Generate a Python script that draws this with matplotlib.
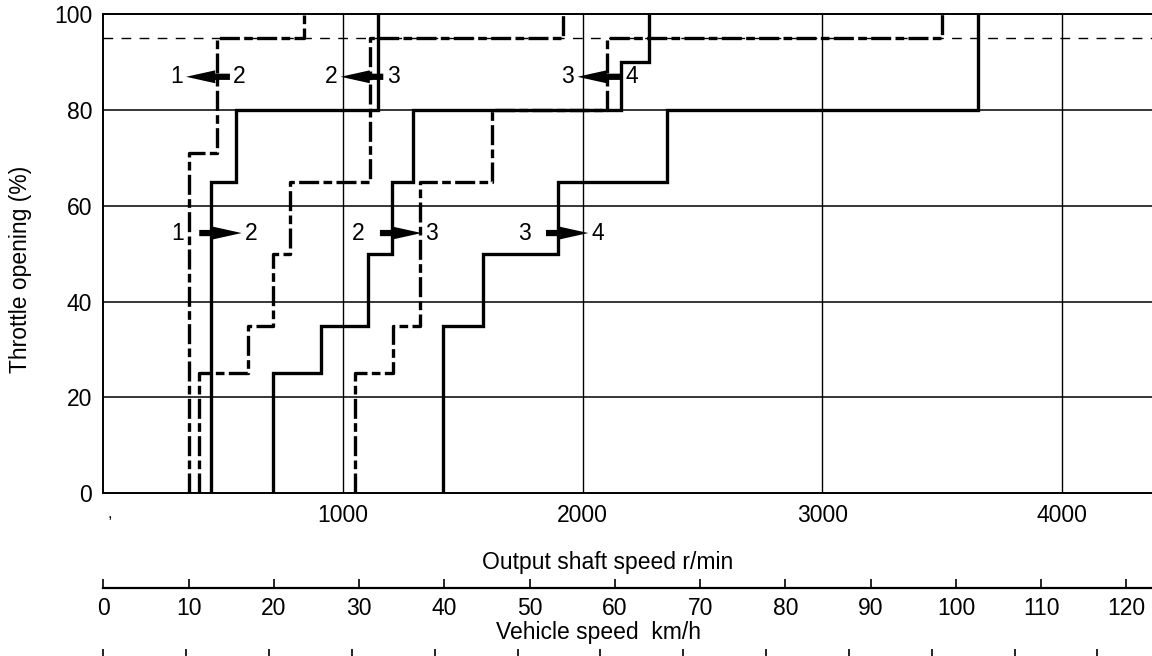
import matplotlib
matplotlib.use("Agg")
import matplotlib.pyplot as plt

plt.rcParams['font.family'] = ['Liberation Sans', 'DejaVu Sans']

# ---------------- data ----------------
# step lines: vertical at rpm[i] from thr[i-1]..thr[i], drawn with steps-pre
up12_rpm = [449, 553, 1147, 1147]
up12_thr = [0, 65, 80, 100]
down12_rpm = [358, 473, 837, 837]
down12_thr = [0, 71, 95, 100]

up23_rpm = [709, 907, 1106, 1203, 1293, 2160, 2278, 2278]
up23_thr = [0, 25, 35, 50, 65, 80, 90, 100]
down23_rpm = [400, 605, 709, 779, 1113, 1918, 1918]
down23_thr = [0, 25, 35, 50, 65, 95, 100]

up34_rpm = [1419, 1586, 1899, 2351, 3650, 3650]
up34_thr = [0, 35, 50, 65, 80, 100]
down34_rpm = [1050, 1210, 1321, 1621, 2100, 3500, 3500]
down34_thr = [0, 25, 35, 65, 80, 95, 100]

kickdown_level = 95

rpm_ticks = [1000, 2000, 3000, 4000]
throttle_ticks = [0, 20, 40, 60, 80, 100]
kmh_ticks = [0, 10, 20, 30, 40, 50, 60, 70, 80, 90, 100, 110, 120]
bottom_scale_ticks = list(range(13))

# shift arrows: (left label, right label, tail rpm, head rpm)
down_arrows = [("1", "2", 528, 345), ("2", "3", 1168, 990), ("3", "4", 2165, 1978)]
up_arrows = [("1", "2", 400, 577), ("2", "3", 1154, 1328), ("3", "4", 1847, 2024)]
down_arrow_thr = 86.9
up_arrow_thr = 54.3

# ---------------- layout ----------------
W, H = 1152, 656
fig = plt.figure(figsize=(W / 100, H / 100), dpi=100)


def fx(px):
    return px / W


def fy(py):
    return 1 - py / H


x0, x1 = 103.4, 1152
ax = fig.add_axes([fx(x0), fy(493.3), fx(x1) - fx(x0), fy(14) - fy(493.3)])
ax.set_xlim(0, 4376)
ax.set_ylim(0, 100)

FS = 16.5
for s in ['left', 'bottom', 'top']:
    ax.spines[s].set_linewidth(1.4)
ax.spines['right'].set_visible(False)

ax.set_xticks(rpm_ticks)
ax.set_xticklabels([str(v) for v in rpm_ticks])
ax.set_yticks(throttle_ticks)
ax.set_yticklabels([str(v) for v in throttle_ticks])
ax.tick_params(axis='both', length=0, labelsize=FS)
ax.tick_params(axis='x', pad=8)
ax.tick_params(axis='y', pad=8)

for v in throttle_ticks[1:-1]:
    ax.axhline(v, color='black', lw=1.1, zorder=1)
for v in rpm_ticks:
    ax.axvline(v, color='black', lw=1.0, zorder=1)

ax.axhline(kickdown_level, color='black', lw=1.0, ls=(0, (7, 6)), zorder=1)

solid_kw = dict(color='black', lw=2.4, drawstyle='steps-pre', zorder=3,
                solid_joinstyle='miter')
dash_kw = dict(color='black', lw=2.4, drawstyle='steps-pre', zorder=3,
               ls=(0, (6.0, 1.3, 2.6, 1.3)))

ax.plot(up12_rpm, up12_thr, **solid_kw)
ax.plot(up23_rpm, up23_thr, **solid_kw)
ax.plot(up34_rpm, up34_thr, **solid_kw)
ax.plot(down12_rpm, down12_thr, **dash_kw)
ax.plot(down23_rpm, down23_thr, **dash_kw)
ax.plot(down34_rpm, down34_thr, **dash_kw)

arrow_style = 'simple,head_length=1.4,head_width=0.62,tail_width=0.3'
for la, lb, tail, head in down_arrows:
    thr = down_arrow_thr
    ax.annotate('', xy=(head, thr), xytext=(tail, thr),
                arrowprops=dict(arrowstyle=arrow_style, color='black',
                                mutation_scale=15, shrinkA=0, shrinkB=0, lw=0),
                zorder=5)
    ax.text(head - 14, thr, la, ha='right', va='center', fontsize=FS)
    ax.text(tail + 14, thr, lb, ha='left', va='center', fontsize=FS)
for la, lb, tail, head in up_arrows:
    thr = up_arrow_thr
    ax.annotate('', xy=(head, thr), xytext=(tail, thr),
                arrowprops=dict(arrowstyle=arrow_style, color='black',
                                mutation_scale=15, shrinkA=0, shrinkB=0, lw=0),
                zorder=5)
    ax.text(tail - 65, thr, la, ha='right', va='center', fontsize=FS)
    ax.text(head + 14, thr, lb, ha='left', va='center', fontsize=FS)

fig.text(fx(21), fy(269), 'Throttle opening (%)', fontsize=FS, rotation=90,
         ha='center', va='center')

# small mark under origin
fig.text(fx(110), fy(513), ',', fontsize=12, ha='center', va='center')

fig.text(fx(608), fy(562), 'Output shaft speed r/min', fontsize=FS,
         ha='center', va='center')

# vehicle speed axis
axv = fig.add_axes([fx(x0), fy(587.5), fx(x1) - fx(x0), 1e-4])
axv.set_facecolor('none')
for s in ['left', 'right', 'top']:
    axv.spines[s].set_visible(False)
axv.spines['bottom'].set_linewidth(1.6)
axv.set_xlim(0, 123.0)
axv.set_xticks(kmh_ticks)
axv.set_xticklabels([str(v) for v in kmh_ticks])
axv.set_yticks([])
axv.tick_params(axis='x', direction='in', length=6.5, width=1.2, pad=7,
                labelsize=FS)

fig.text(fx(599), fy(632), 'Vehicle speed  km/h', fontsize=FS,
         ha='center', va='center')

# bottom (cut-off) scale
axb = fig.add_axes([fx(x0), fy(661), fx(x1) - fx(x0), 1e-4])
axb.set_facecolor('none')
for s in ['left', 'right', 'top']:
    axb.spines[s].set_visible(False)
axb.set_xlim(0, 12.66)
axb.set_xticks(bottom_scale_ticks)
axb.set_xticklabels([''] * len(bottom_scale_ticks))
axb.set_yticks([])
axb.tick_params(axis='x', direction='in', length=9, width=1.2)

fig.savefig('out.png', dpi=100)
